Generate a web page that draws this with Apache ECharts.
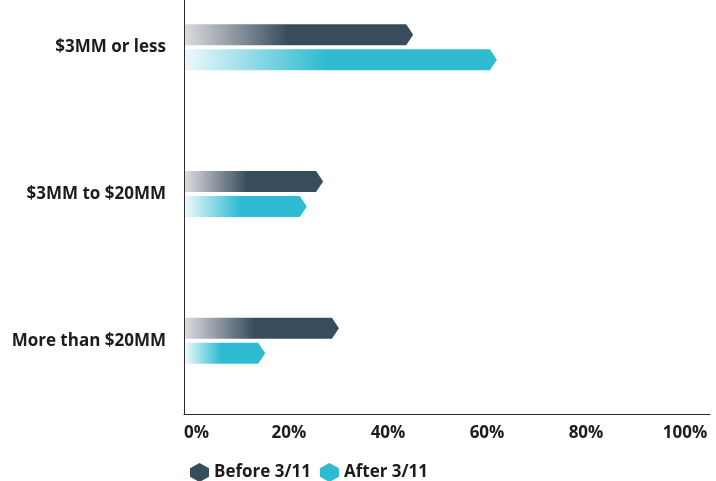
<!DOCTYPE html>
<html><head><meta charset="utf-8">
<script src="https://cdn.jsdelivr.net/npm/echarts@6/dist/echarts.min.js"></script>
<style>html,body{margin:0;padding:0;background:#fff}#c{width:716px;height:481px}</style>
</head><body><div id="c"></div>
<script>
const categories = ['$3MM or less', '$3MM to $20MM', 'More than $20MM'];
const seriesNames = ['Before 3/11', 'After 3/11'];
const beforeValues = [46.3, 28.1, 31.3];
const afterValues = [63.2, 24.8, 16.4];
const tickLabels = ['0%', '20%', '40%', '60%', '80%', '100%'];

const darkColor = '#384d5c', darkLight = '#dcdbe0';
const cyanColor = '#2fbbd2', cyanLight = '#eef8fb';
const hex = 'path://M50,0 L100,27 L100,73 L50,100 L0,73 L0,27 Z';
const FONT = 'Open Sans';

function makeRender(offsetSign, color, light) {
  return function (params, api) {
    const cat = api.value(1), val = api.value(0);
    const start = api.coord([0, cat]);
    const end = api.coord([val, cat]);
    const c = start[1];
    const th = 21, gap = 2;
    const y0 = offsetSign < 0 ? c - gap - th : c + gap;
    const y1 = y0 + th;
    const x0 = start[0] + 1, x1 = end[0];
    const tip = 7;
    return {
      type: 'polygon',
      shape: { points: [[x0, y0], [x1 - tip, y0], [x1, (y0 + y1) / 2], [x1 - tip, y1], [x0, y1]] },
      style: {
        fill: new echarts.graphic.LinearGradient(0, 0, 1, 0, [
          { offset: 0, color: light },
          { offset: 0.45, color: color },
          { offset: 1, color: color }
        ])
      }
    };
  };
}

const chart = echarts.init(document.getElementById('c'));
chart.setOption({
  animation: false,
  grid: { left: 184, right: 6, top: -26, bottom: 67, containLabel: false, outerBoundsMode: 'none' },
  xAxis: {
    type: 'value', min: 0, max: 106.26, interval: 20,
    axisLine: { show: true, lineStyle: { color: '#2b2b2b', width: 1 } },
    axisTick: { show: false },
    splitLine: { show: false },
    axisLabel: {
      margin: 11, color: '#1c1c1c', fontFamily: FONT, fontWeight: 'bold', fontSize: 17,
      showMaxLabel: false, alignMinLabel: 'left',
      formatter: v => (v > 100.01 ? '' : (v === 0 ? '{z|' + tickLabels[0] + '}' : '{s|' + tickLabels[Math.round(v / 20)] + '}')),
      rich: {
        z: { color: '#1c1c1c', fontFamily: FONT, fontWeight: 'bold', fontSize: 17 },
        s: { color: '#1c1c1c', fontFamily: FONT, fontWeight: 'bold', fontSize: 17, padding: [0, 0, 0, 12] }
      }
    }
  },
  yAxis: {
    type: 'category', data: categories, inverse: true,
    axisLine: { show: true, lineStyle: { color: '#2b2b2b', width: 1 } },
    axisTick: { show: false },
    axisLabel: { margin: 18, color: '#1c1c1c', fontFamily: FONT, fontWeight: 'bold', fontSize: 17, padding: [0, 0, 8, 0] }
  },
  legend: {
    left: 185, top: 458, itemWidth: 19, itemHeight: 20, itemGap: 9,
    textStyle: { color: '#1c1c1c', fontFamily: FONT, fontWeight: 'bold', fontSize: 17 },
    data: [{ name: seriesNames[0], icon: hex }, { name: seriesNames[1], icon: hex }]
  },
  series: [
    {
      name: seriesNames[0], type: 'custom', itemStyle: { color: darkColor },
      encode: { x: 0, y: 1 },
      data: beforeValues.map((v, i) => [v, i]),
      renderItem: makeRender(-1, darkColor, darkLight)
    },
    {
      name: seriesNames[1], type: 'custom', itemStyle: { color: cyanColor },
      encode: { x: 0, y: 1 },
      data: afterValues.map((v, i) => [v, i]),
      renderItem: makeRender(1, cyanColor, cyanLight)
    }
  ]
});
</script></body></html>
